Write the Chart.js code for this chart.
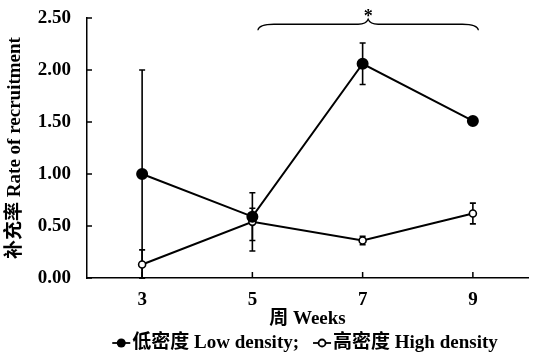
<!DOCTYPE html>
<html>
<head>
<meta charset="utf-8">
<script src="https://cdn.jsdelivr.net/npm/chart.js@4"></script>
<style>
  html, body { margin: 0; padding: 0; background: #fff; }
</style>
</head>
<body>
<canvas id="chart" width="535" height="357"></canvas>
<script>
// values
const weeks = [3, 5, 7, 9];
const lowDensity = [1.00, 0.59, 2.06, 1.51];
const lowErrUp = [1.00, 0.23, 0.20, 0.00];
const lowErrDown = [1.00, 0.23, 0.20, 0.00];
const highDensity = [0.13, 0.54, 0.36, 0.62];
const highErrUp = [0.14, 0.13, 0.04, 0.10];
const highErrDown = [0.13, 0.28, 0.04, 0.10];
const yTicks = [0, 0.5, 1, 1.5, 2, 2.5];
const xTicks = [3, 5, 7, 9];
// significance brace over weeks 5-9
const braceFrom = 5.1, braceTo = 9.1, braceY = 2.44;

const FONT = '"Liberation Serif", "Noto Sans CJK SC", serif';

const extras = {
    id: 'extras',
    beforeDatasetsDraw(chart) {
        const ctx = chart.ctx;
        const ys = chart.scales.y;
        const errs = [[lowErrUp, lowErrDown], [highErrUp, highErrDown]];
        ctx.save();
        ctx.strokeStyle = '#000';
        ctx.lineWidth = 1.6;
        chart.data.datasets.forEach((ds, di) => {
            const meta = chart.getDatasetMeta(di);
            meta.data.forEach((pt, i) => {
                const up = errs[di][0][i], dn = errs[di][1][i];
                if (!up && !dn) return;
                const v = ds.data[i].y;
                const yTop = ys.getPixelForValue(v + up);
                const yBot = ys.getPixelForValue(v - dn);
                ctx.beginPath();
                ctx.moveTo(pt.x, yTop); ctx.lineTo(pt.x, yBot);
                ctx.moveTo(pt.x - 3, yTop); ctx.lineTo(pt.x + 3, yTop);
                ctx.moveTo(pt.x - 3, yBot); ctx.lineTo(pt.x + 3, yBot);
                ctx.stroke();
            });
        });
        ctx.restore();
    },
    afterDraw(chart) {
        const ctx = chart.ctx;
        const xs = chart.scales.x, ys = chart.scales.y;
        const area = chart.chartArea;
        ctx.save();
        ctx.strokeStyle = '#000';
        ctx.fillStyle = '#000';
        ctx.lineWidth = 1.5;

        // inward tick marks
        ctx.beginPath();
        yTicks.forEach(t => {
            const y = ys.getPixelForValue(t);
            ctx.moveTo(area.left, y); ctx.lineTo(area.left + 5, y);
        });
        xTicks.forEach(t => {
            const x = xs.getPixelForValue(t);
            ctx.moveTo(x, area.bottom); ctx.lineTo(x, area.bottom - 6);
        });
        ctx.stroke();

        // curly brace
        const x0 = xs.getPixelForValue(braceFrom);
        const x1 = xs.getPixelForValue(braceTo);
        const xm = (x0 + x1) / 2;
        const yb = ys.getPixelForValue(braceY);
        ctx.lineWidth = 1.3;
        ctx.beginPath();
        ctx.moveTo(x0, yb + 6);
        ctx.quadraticCurveTo(x0 + 1, yb, x0 + 16, yb);
        ctx.lineTo(xm - 10, yb);
        ctx.quadraticCurveTo(xm - 2, yb, xm, yb - 5);
        ctx.quadraticCurveTo(xm + 2, yb, xm + 10, yb);
        ctx.lineTo(x1 - 16, yb);
        ctx.quadraticCurveTo(x1 - 1, yb, x1, yb + 6);
        ctx.stroke();
        ctx.font = 'bold 18px ' + FONT;
        ctx.textAlign = 'center';
        ctx.textBaseline = 'middle';
        ctx.fillText('*', xm, yb - 7);

        // legend
        ctx.font = 'bold 19px ' + FONT;
        ctx.textAlign = 'left';
        const t1 = '低密度 Low density;', t2 = '高密度 High density';
        const mk = 18, gap = 2, sep = 14;
        const w1 = ctx.measureText(t1).width, w2 = ctx.measureText(t2).width;
        const total = mk + gap + w1 + sep + mk + gap + w2;
        let lx = 305 - total / 2;
        const ly = 343;
        ctx.lineWidth = 1.8;
        ctx.beginPath(); ctx.moveTo(lx, ly); ctx.lineTo(lx + mk, ly); ctx.stroke();
        ctx.beginPath(); ctx.arc(lx + mk / 2, ly, 4.5, 0, Math.PI * 2); ctx.fill();
        lx += mk + gap;
        ctx.fillText(t1, lx, ly);
        lx += w1 + sep;
        ctx.beginPath(); ctx.moveTo(lx, ly); ctx.lineTo(lx + mk, ly); ctx.stroke();
        ctx.beginPath(); ctx.arc(lx + mk / 2, ly, 3.5, 0, Math.PI * 2);
        ctx.fillStyle = '#fff'; ctx.fill(); ctx.stroke();
        ctx.fillStyle = '#000';
        lx += mk + gap;
        ctx.fillText(t2, lx, ly);
        ctx.restore();
    }
};

new Chart(document.getElementById('chart'), {
    type: 'line',
    data: {
        datasets: [{
            label: '低密度 Low density',
            data: weeks.map((w, i) => ({ x: w, y: lowDensity[i] })),
            borderColor: '#000',
            backgroundColor: '#000',
            borderWidth: 2,
            pointRadius: 5,
            pointBackgroundColor: '#000',
            pointBorderColor: '#000',
            tension: 0
        }, {
            label: '高密度 High density',
            data: weeks.map((w, i) => ({ x: w, y: highDensity[i] })),
            borderColor: '#000',
            borderWidth: 2,
            pointRadius: 3.5,
            pointBorderWidth: 1.6,
            pointBackgroundColor: '#fff',
            pointBorderColor: '#000',
            tension: 0
        }]
    },
    options: {
        responsive: false,
        animation: false,
        devicePixelRatio: 1,
        layout: { padding: { top: 18, right: 5, bottom: 27, left: 0 } },
        plugins: { legend: { display: false }, tooltip: { enabled: false } },
        scales: {
            x: {
                type: 'linear',
                min: 2, max: 10,
                afterBuildTicks: s => { s.ticks = xTicks.map(v => ({ value: v })); },
                afterFit: s => { s.height = 52; s.paddingLeft = 0; s.paddingRight = 0; },
                grid: { display: false, drawTicks: false },
                border: { color: '#000', width: 1.5 },
                ticks: { color: '#000', padding: 11, font: { family: FONT, size: 19, weight: 'bold' } },
                title: {
                    display: true, text: '周 Weeks', color: '#000',
                    padding: { top: 0, bottom: 0 },
                    font: { family: FONT, size: 19, weight: 'bold' }
                }
            },
            y: {
                min: 0, max: 2.5,
                afterBuildTicks: s => { s.ticks = yTicks.map(v => ({ value: v })); },
                afterFit: s => { s.width = 87; s.paddingTop = 0; s.paddingBottom = 0; },
                grid: { display: false, drawTicks: false },
                border: { color: '#000', width: 1.5 },
                ticks: {
                    color: '#000', padding: 16,
                    font: { family: FONT, size: 19, weight: 'bold' },
                    callback: v => v.toFixed(2)
                },
                title: {
                    display: true, text: '补充率 Rate of recruitment', color: '#000',
                    padding: { top: 4, bottom: 0 },
                    font: { family: FONT, size: 19, weight: 'bold' }
                }
            }
        }
    },
    plugins: [extras]
});
</script>
</body>
</html>
